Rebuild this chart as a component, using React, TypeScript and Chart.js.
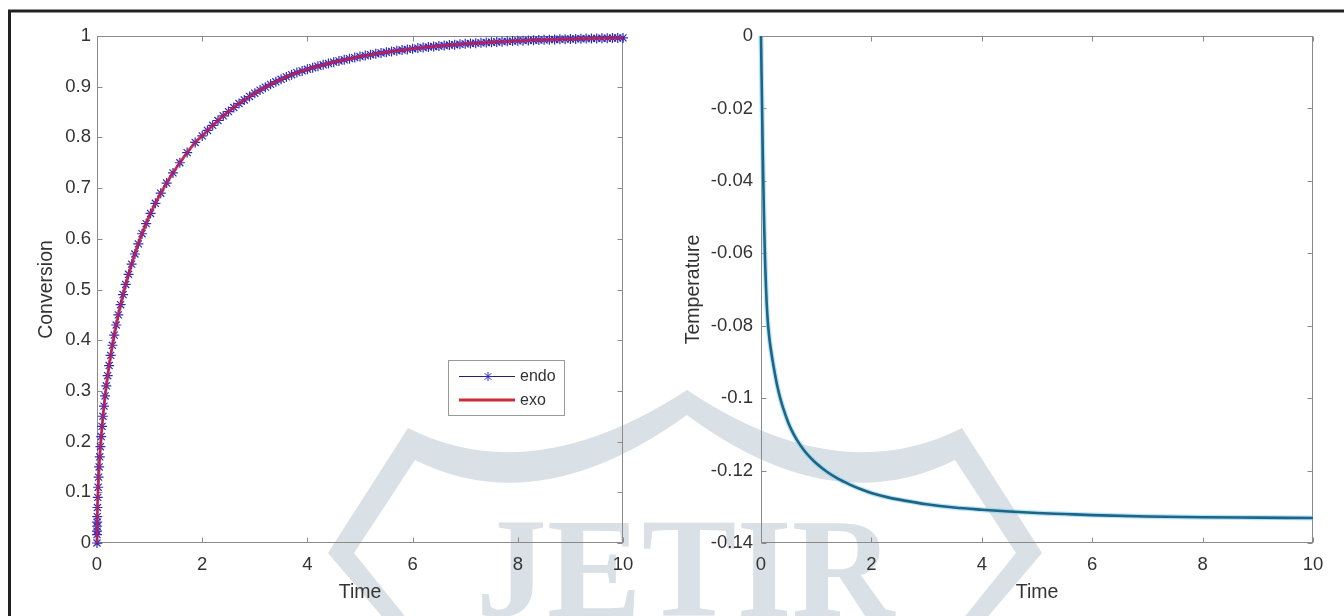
import React, { useEffect, useRef } from "react";
import { Chart, registerables } from "chart.js";

Chart.register(...registerables);

// ---- Conversion vs time (endo / exo runs overlap) ----
const conversionTime = [
  0, 0.0005, 0.001, 0.002, 0.003, 0.005, 0.0089, 0.0147, 0.022, 0.0307, 0.0409,
  0.0525, 0.0656, 0.0802, 0.0962, 0.1136, 0.133, 0.154, 0.177, 0.203, 0.2305,
  0.26, 0.2926, 0.3276, 0.3654, 0.4057, 0.449, 0.4955, 0.5457, 0.6, 0.658,
  0.7207, 0.786, 0.8565, 0.9345, 1.018, 1.11, 1.212, 1.324, 1.444, 1.575, 1.714,
  1.867,
  2.0, 2.1, 2.2, 2.3, 2.4, 2.5, 2.6, 2.7, 2.8, 2.9,
  3.0, 3.1, 3.2, 3.3, 3.4, 3.5, 3.6, 3.7, 3.8, 3.9,
  4.0, 4.1, 4.2, 4.3, 4.4, 4.5, 4.6, 4.7, 4.8, 4.9,
  5.0, 5.1, 5.2, 5.3, 5.4, 5.5, 5.6, 5.7, 5.8, 5.9,
  6.0, 6.1, 6.2, 6.3, 6.4, 6.5, 6.6, 6.7, 6.8, 6.9,
  7.0, 7.1, 7.2, 7.3, 7.4, 7.5, 7.6, 7.7, 7.8, 7.9,
  8.0, 8.1, 8.2, 8.3, 8.4, 8.5, 8.6, 8.7, 8.8, 8.9,
  9.0, 9.1, 9.2, 9.3, 9.4, 9.5, 9.6, 9.7, 9.8, 9.9,
  10.0,
];

const conversion = [
  0, 0.0166, 0.0235, 0.033, 0.041, 0.052, 0.07, 0.09, 0.11, 0.13, 0.15,
  0.17, 0.19, 0.21, 0.23, 0.25, 0.27, 0.29, 0.31, 0.33, 0.35,
  0.37, 0.39, 0.41, 0.43, 0.45, 0.47, 0.49, 0.51, 0.53, 0.55,
  0.57, 0.59, 0.61, 0.63, 0.65, 0.67, 0.69, 0.71, 0.73, 0.75, 0.77,
  0.79,
  0.803, 0.8137, 0.8238, 0.8333, 0.8424, 0.8509, 0.859, 0.8667, 0.8739, 0.8807,
  0.8872, 0.8933, 0.8991, 0.9046, 0.9097, 0.9146, 0.9193, 0.9236, 0.9278, 0.9312,
  0.9344, 0.9375, 0.9404, 0.9432, 0.9459, 0.9484, 0.9508, 0.9531, 0.9553, 0.9574,
  0.9594, 0.9613, 0.9631, 0.9649, 0.9665, 0.9681, 0.9696, 0.971, 0.9724, 0.9736,
  0.9749, 0.9761, 0.9772, 0.9783, 0.9793, 0.9802, 0.9812, 0.9821, 0.9829, 0.9837,
  0.9845, 0.9852, 0.9859, 0.9865, 0.9872, 0.9878, 0.9883, 0.9889, 0.9894, 0.9899,
  0.9904, 0.9908, 0.9913, 0.9917, 0.9921, 0.9924, 0.9928, 0.9931, 0.9935, 0.9938,
  0.9941, 0.9943, 0.9946, 0.9949, 0.9951, 0.9953, 0.9955, 0.9957, 0.9959, 0.9961,
  0.9963,
];

// ---- Temperature vs time ----
const temperatureTime = [
  0, 0.01, 0.02, 0.03, 0.04, 0.05, 0.06, 0.07, 0.08, 0.09, 0.1, 0.115, 0.13,
  0.16, 0.2, 0.25, 0.3, 0.35, 0.4, 0.5, 0.6, 0.7, 0.8, 0.9, 1.0, 1.2, 1.4, 1.6,
  1.8, 2.0, 2.3, 2.6, 3.0, 3.5, 4.0, 4.5, 5.0, 5.5, 6.0, 7.0, 8.0, 9.0, 10.0,
];

const temperature = [
  0, -0.0105, -0.0205, -0.03, -0.039, -0.047, -0.054, -0.06, -0.065, -0.0692,
  -0.073, -0.077, -0.0802, -0.0845, -0.0887, -0.0931, -0.097, -0.1001, -0.1027,
  -0.107, -0.1102, -0.1127, -0.1148, -0.1165, -0.118, -0.1204, -0.1223, -0.1238,
  -0.1251, -0.1262, -0.1274, -0.1283, -0.1293, -0.1302, -0.1308, -0.1313,
  -0.1317, -0.132, -0.1323, -0.1327, -0.1329, -0.133, -0.1331,
];

// ---- Axis ticks ----
const timeTicks = [0, 2, 4, 6, 8, 10];
const timeTickLabels = ["0", "2", "4", "6", "8", "10"];
const conversionTicks = [0, 0.1, 0.2, 0.3, 0.4, 0.5, 0.6, 0.7, 0.8, 0.9, 1];
const conversionTickLabels = ["0", "0.1", "0.2", "0.3", "0.4", "0.5", "0.6", "0.7", "0.8", "0.9", "1"];
const temperatureTicks = [0, -0.02, -0.04, -0.06, -0.08, -0.1, -0.12, -0.14];
const temperatureTickLabels = ["0", "-0.02", "-0.04", "-0.06", "-0.08", "-0.1", "-0.12", "-0.14"];

const FONT = '"Liberation Sans", Arial, Helvetica, sans-serif';
const TEXT = "#333333";
const AXIS = "#8a8a8a";

const zip = (xs: number[], ys: number[]) =>
  xs.slice(0, Math.min(xs.length, ys.length)).map((x, i) => ({ x, y: ys[i] }));

// Box axes with inward ticks on all four sides
const axesBox = {
  id: "axesBox",
  beforeDatasetsDraw(chart: any) {
    const { ctx, chartArea: a, scales } = chart;
    const L = Math.round(a.left) + 0.5;
    const R = Math.round(a.right) - 0.5;
    const T = Math.round(a.top) + 0.5;
    const B = Math.round(a.bottom) - 0.5;
    const len = 5;
    ctx.save();
    ctx.strokeStyle = AXIS;
    ctx.lineWidth = 1;
    ctx.strokeRect(L, T, R - L, B - T);
    ctx.beginPath();
    for (const t of scales.x.ticks) {
      const px = Math.round(scales.x.getPixelForValue(t.value)) + 0.5;
      ctx.moveTo(px, B);
      ctx.lineTo(px, B - len);
      ctx.moveTo(px, T);
      ctx.lineTo(px, T + len);
    }
    for (const t of scales.y.ticks) {
      const py = Math.round(scales.y.getPixelForValue(t.value)) + 0.5;
      ctx.moveTo(L, py);
      ctx.lineTo(L + len, py);
      ctx.moveTo(R, py);
      ctx.lineTo(R - len, py);
    }
    ctx.stroke();
    ctx.restore();
  },
};

function drawAsterisk(ctx: CanvasRenderingContext2D, x: number, y: number, r: number) {
  const d = r * Math.SQRT1_2;
  ctx.beginPath();
  ctx.moveTo(x - r, y);
  ctx.lineTo(x + r, y);
  ctx.moveTo(x, y - r);
  ctx.lineTo(x, y + r);
  ctx.moveTo(x - d, y - d);
  ctx.lineTo(x + d, y + d);
  ctx.moveTo(x - d, y + d);
  ctx.lineTo(x + d, y - d);
  ctx.stroke();
}

// Boxed legend inside the conversion axes
const conversionLegend = {
  id: "conversionLegend",
  afterDraw(chart: any) {
    const { ctx, chartArea } = chart;
    const x0 = Math.round(chartArea.left) + 351;
    const y0 = Math.round(chartArea.top) + 324;
    const w = 116;
    const h = 55;
    ctx.save();
    ctx.fillStyle = "#ffffff";
    ctx.fillRect(x0, y0, w, h);
    ctx.strokeStyle = "#9a9a9a";
    ctx.lineWidth = 1;
    ctx.strokeRect(x0 + 0.5, y0 + 0.5, w, h);

    const r1 = y0 + 16;
    const r2 = y0 + 40;
    ctx.strokeStyle = "#24246e";
    ctx.lineWidth = 1;
    ctx.beginPath();
    ctx.moveTo(x0 + 11, r1 + 0.5);
    ctx.lineTo(x0 + 67, r1 + 0.5);
    ctx.stroke();
    ctx.strokeStyle = "#2424c8";
    drawAsterisk(ctx, x0 + 40, r1 + 0.5, 4.5);

    ctx.strokeStyle = "#cf2c38";
    ctx.lineWidth = 3;
    ctx.beginPath();
    ctx.moveTo(x0 + 11, r2);
    ctx.lineTo(x0 + 67, r2);
    ctx.stroke();

    ctx.fillStyle = TEXT;
    ctx.font = `16px ${FONT}`;
    ctx.textBaseline = "middle";
    ctx.textAlign = "left";
    ctx.fillText("endo", x0 + 72, r1 + 1);
    ctx.fillText("exo", x0 + 72, r2 + 1);
    ctx.restore();
  },
};

function tickSetter(values: number[]) {
  return (scale: any) => {
    scale.ticks = values.map((v) => ({ value: v }));
  };
}

function axisOptions(
  min: number,
  max: number,
  ticks: number[],
  labels: string[],
  title: string,
  titlePadding: any,
  fit: (s: any) => void,
  labelPad: number
) {
  return {
    type: "linear",
    min,
    max,
    afterBuildTicks: tickSetter(ticks),
    afterFit: fit,
    grid: { display: false, drawTicks: false },
    border: { display: false },
    ticks: {
      padding: labelPad,
      color: TEXT,
      font: { family: FONT, size: 18.5 },
      maxRotation: 0,
      autoSkip: false,
      callback: (v: number) => {
        const i = ticks.indexOf(v);
        return i >= 0 ? labels[i] : "";
      },
    },
    title: {
      display: true,
      text: title,
      color: TEXT,
      font: { family: FONT, size: 19.5 },
      padding: titlePadding,
    },
  };
}

function drawBackdrop(canvas: HTMLCanvasElement) {
  const ctx = canvas.getContext("2d");
  if (!ctx) return;
  ctx.clearRect(0, 0, canvas.width, canvas.height);
  ctx.fillStyle = "#ffffff";
  ctx.fillRect(0, 0, canvas.width, canvas.height);

  // publisher mark behind the plots
  ctx.fillStyle = "#d9e0e6";
  ctx.beginPath();
  ctx.moveTo(385, 620);
  ctx.lineTo(328, 553);
  ctx.lineTo(408, 428);
  ctx.quadraticCurveTo(532, 491, 687, 390);
  ctx.quadraticCurveTo(838, 491, 962, 428);
  ctx.lineTo(1042, 553);
  ctx.lineTo(985, 620);
  ctx.lineTo(962, 620);
  ctx.lineTo(1016, 553);
  ctx.lineTo(955, 460);
  ctx.quadraticCurveTo(831, 522, 687, 415);
  ctx.quadraticCurveTo(539, 522, 415, 460);
  ctx.lineTo(354, 553);
  ctx.lineTo(408, 620);
  ctx.closePath();
  ctx.fill();
  ctx.font = 'bold 142px "Liberation Serif", "DejaVu Serif", serif';
  ctx.textBaseline = "alphabetic";
  ctx.fillText("JETIR", 476, 616);

  // figure frame
  ctx.strokeStyle = "#222222";
  ctx.lineWidth = 3;
  ctx.beginPath();
  ctx.moveTo(9.5, 620);
  ctx.lineTo(9.5, 11);
  ctx.lineTo(1344, 11);
  ctx.stroke();
}

export default function App() {
  const bgRef = useRef<HTMLCanvasElement>(null);
  const leftRef = useRef<HTMLCanvasElement>(null);
  const rightRef = useRef<HTMLCanvasElement>(null);

  useEffect(() => {
    if (bgRef.current) drawBackdrop(bgRef.current);

    const pts = zip(conversionTime, conversion);
    const left = new Chart(leftRef.current as HTMLCanvasElement, {
      type: "scatter",
      data: {
        datasets: [
          {
            label: "exo",
            data: pts,
            showLine: true,
            borderColor: "rgba(198, 30, 78, 0.85)",
            borderWidth: 3,
            pointRadius: 0,
            cubicInterpolationMode: "monotone",
            clip: false,
            order: 0,
          },
          {
            label: "endo",
            data: pts,
            showLine: true,
            borderColor: "#24246e",
            borderWidth: 1,
            pointStyle: "star",
            pointRadius: 5,
            pointBorderColor: "#2a2ac0",
            pointBackgroundColor: "#2a2ac0",
            pointBorderWidth: 1.2,
            cubicInterpolationMode: "monotone",
            clip: false,
            order: 1,
          },
        ],
      },
      options: {
        responsive: false,
        animation: false,
        events: [],
        layout: { padding: { top: 36, right: 49, left: 0, bottom: 0 } },
        plugins: { legend: { display: false }, tooltip: { enabled: false } },
        scales: {
          x: axisOptions(0, 10, timeTicks, timeTickLabels, "Time", { top: 0, bottom: 11.3 }, (s: any) => {
            s.height = 73;
          }, 11),
          y: axisOptions(0, 1, conversionTicks, conversionTickLabels, "Conversion", { top: 35.3, bottom: 0 }, (s: any) => {
            s.width = 97;
          }, 6),
        },
      },
      plugins: [axesBox, conversionLegend],
    } as any);

    const tpts = zip(temperatureTime, temperature);
    const right = new Chart(rightRef.current as HTMLCanvasElement, {
      type: "scatter",
      data: {
        datasets: [
          {
            label: "Temperature",
            data: tpts,
            showLine: true,
            borderColor: "#1f6487",
            borderWidth: 2.6,
            pointRadius: 0,
            cubicInterpolationMode: "monotone",
            clip: false,
            order: 0,
          },
          {
            label: "edge",
            data: tpts,
            showLine: true,
            borderColor: "rgba(120, 208, 236, 0.55)",
            borderWidth: 5,
            pointRadius: 0,
            cubicInterpolationMode: "monotone",
            clip: false,
            order: 1,
          },
        ],
      },
      options: {
        responsive: false,
        animation: false,
        events: [],
        layout: { padding: { top: 36, right: 31, left: 0, bottom: 0 } },
        plugins: { legend: { display: false }, tooltip: { enabled: false } },
        scales: {
          x: axisOptions(0, 10, timeTicks, timeTickLabels, "Time", { top: 0, bottom: 11.3 }, (s: any) => {
            s.height = 73;
          }, 11),
          y: axisOptions(-0.14, 0, temperatureTicks, temperatureTickLabels, "Temperature", { top: 10.3, bottom: 0 }, (s: any) => {
            s.width = 89;
          }, 8),
        },
      },
      plugins: [axesBox],
    } as any);

    return () => {
      left.destroy();
      right.destroy();
    };
  }, []);

  return (
    <div
      style={{
        position: "fixed",
        left: 0,
        top: 0,
        width: 1344,
        height: 616,
        background: "#ffffff",
        overflow: "hidden",
      }}
    >
      <canvas ref={bgRef} width={1344} height={616} style={{ position: "absolute", left: 0, top: 0 }} />
      <canvas
        ref={leftRef}
        width={672}
        height={616}
        style={{ position: "absolute", left: 0, top: 0, width: 672, height: 616 }}
      />
      <canvas
        ref={rightRef}
        width={672}
        height={616}
        style={{ position: "absolute", left: 672, top: 0, width: 672, height: 616 }}
      />
    </div>
  );
}
